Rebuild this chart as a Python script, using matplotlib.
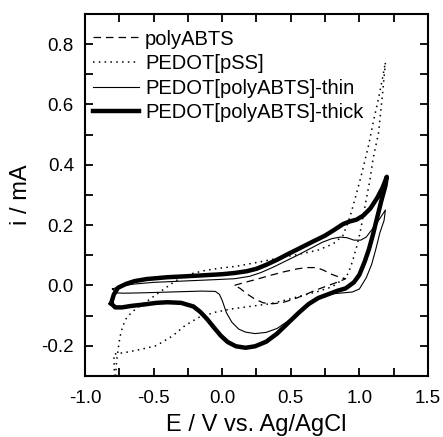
import matplotlib
matplotlib.use("Agg")
import matplotlib.pyplot as plt
from matplotlib.ticker import MultipleLocator, FormatStrFormatter

plt.rcParams["font.family"] = ["Liberation Sans", "DejaVu Sans"]

# polyABTS (dashed)
abts_E = [0.09, 0.15, 0.25, 0.35, 0.45, 0.55, 0.62, 0.69, 0.74, 0.79, 0.85, 0.90,
          0.86, 0.80, 0.74, 0.67, 0.60, 0.52, 0.44, 0.37, 0.30, 0.24, 0.18, 0.13, 0.09]
abts_i = [0.0, 0.008, 0.02, 0.033, 0.045, 0.055, 0.059, 0.059, 0.05, 0.038, 0.028, 0.022,
          0.014, 0.004, -0.006, -0.018, -0.032, -0.046, -0.057, -0.061, -0.058, -0.046, -0.028, -0.01, 0.0]

# PEDOT[pSS] (dotted)
pss_E = [-0.78, -0.77, -0.755, -0.745, -0.725, -0.70, -0.66, -0.60, -0.54, -0.48, -0.42, -0.35,
         -0.28, -0.22, -0.12, 0.0, 0.1, 0.3, 0.45, 0.59, 0.70, 0.81, 0.88, 0.91, 0.94, 0.97,
         1.0, 1.03, 1.07, 1.10, 1.14, 1.17, 1.19,
         1.17, 1.14, 1.10, 1.077, 1.04, 1.004, 0.98, 0.95, 0.92, 0.88, 0.80, 0.70, 0.59, 0.47,
         0.35, 0.20, 0.07, -0.05, -0.17, -0.27, -0.36, -0.48, -0.60, -0.70, -0.79, -0.785]
pss_i = [-0.32, -0.25, -0.20, -0.17, -0.135, -0.11, -0.089, -0.068, -0.05, -0.03, -0.011, 0.012,
         0.03, 0.039, 0.05, 0.058, 0.063, 0.08, 0.094, 0.106, 0.117, 0.138, 0.165, 0.20, 0.24, 0.29,
         0.34, 0.394, 0.47, 0.539, 0.62, 0.69, 0.74,
         0.64, 0.506, 0.42, 0.35, 0.26, 0.172, 0.128, 0.08, 0.04, 0.02, -0.005, -0.02, -0.033, -0.048,
         -0.061, -0.07, -0.078, -0.089, -0.106, -0.133, -0.167, -0.20, -0.213, -0.222, -0.228, -0.32]

# PEDOT[polyABTS]-thin (thin solid)
thin_E = [-0.80, -0.75, -0.65, -0.50, -0.35, -0.20, -0.05, 0.09, 0.20, 0.28, 0.37, 0.46, 0.55,
          0.65, 0.73, 0.80, 0.86, 0.91, 0.96, 1.01, 1.05, 1.10, 1.15, 1.19,
          1.18, 1.15, 1.12, 1.09, 1.05, 1.00, 0.95, 0.88, 0.80, 0.72, 0.65, 0.57, 0.48, 0.40,
          0.32, 0.24, 0.17, 0.12, 0.07, 0.03, 0.0, -0.02, -0.05, -0.15, -0.30, -0.45, -0.60,
          -0.72, -0.77, -0.80]
thin_i = [-0.012, -0.004, 0.004, 0.010, 0.013, 0.016, 0.019, 0.022, 0.030, 0.042, 0.060, 0.080, 0.100,
          0.124, 0.143, 0.155, 0.160, 0.158, 0.150, 0.150, 0.160, 0.19, 0.222, 0.25,
          0.215, 0.175, 0.12, 0.07, 0.025, -0.012, -0.022, -0.025, -0.028, -0.04, -0.055, -0.085, -0.118, -0.143,
          -0.156, -0.16, -0.155, -0.145, -0.122, -0.09, -0.05, -0.03, -0.02, -0.019, -0.021, -0.023, -0.025,
          -0.026, -0.025, -0.012]

# PEDOT[polyABTS]-thick (thick solid)
thick_E = [-0.81, -0.79, -0.76, -0.70, -0.64, -0.55, -0.40, -0.27, -0.15, 0.0, 0.09, 0.18, 0.25,
           0.32, 0.40, 0.48, 0.56, 0.66, 0.75, 0.82, 0.88, 0.93, 0.98, 1.03, 1.08, 1.13, 1.17, 1.20,
           1.19, 1.16, 1.13, 1.10, 1.07, 1.04, 1.00, 0.96, 0.90, 0.84, 0.77, 0.70, 0.63, 0.56,
           0.48, 0.40, 0.32, 0.24, 0.17, 0.10, 0.04, -0.01, -0.06, -0.11, -0.16, -0.21, -0.30,
           -0.40, -0.48, -0.58, -0.66, -0.73, -0.78, -0.81]
thick_i = [-0.06, -0.03, -0.008, 0.005, 0.014, 0.021, 0.027, 0.030, 0.033, 0.037, 0.041, 0.047, 0.055,
           0.068, 0.085, 0.104, 0.122, 0.145, 0.165, 0.185, 0.203, 0.212, 0.218, 0.232, 0.255, 0.29, 0.325, 0.36,
           0.33, 0.28, 0.225, 0.17, 0.12, 0.08, 0.035, 0.01, -0.01, -0.018, -0.03, -0.042, -0.062, -0.09,
           -0.125, -0.16, -0.187, -0.202, -0.207, -0.202, -0.188, -0.167, -0.14, -0.112, -0.088, -0.07, -0.058,
           -0.056, -0.058, -0.064, -0.068, -0.073, -0.073, -0.06]

labels = ["polyABTS", "PEDOT[pSS]", "PEDOT[polyABTS]-thin", "PEDOT[polyABTS]-thick"]

fig = plt.figure(figsize=(4.43, 4.37), dpi=100)
ax = fig.add_axes([0.192, 0.14, 0.774, 0.828])

ax.plot(abts_E, abts_i, color="black", lw=0.9, ls=(0, (6, 4)), label=labels[0])
ax.plot(pss_E, pss_i, color="black", lw=1.1, ls=(0, (1, 2.8)), label=labels[1])
ax.plot(thin_E, thin_i, color="black", lw=0.8, label=labels[2])
ax.plot(thick_E, thick_i, color="black", lw=3.2, label=labels[3])

ax.set_xlim(-1.0, 1.5)
ax.set_ylim(-0.3, 0.9)
ax.xaxis.set_major_locator(MultipleLocator(0.5))
ax.xaxis.set_minor_locator(MultipleLocator(0.25))
ax.yaxis.set_major_locator(MultipleLocator(0.2))
ax.yaxis.set_minor_locator(MultipleLocator(0.1))
ax.xaxis.set_major_formatter(FormatStrFormatter("%.1f"))
ax.yaxis.set_major_formatter(FormatStrFormatter("%.1f"))
ax.tick_params(which="both", direction="in", top=True, right=True, width=1.3, labelsize=13.5)
ax.tick_params(axis="x", pad=10)
ax.tick_params(axis="y", pad=8)
ax.tick_params(which="major", length=6)
ax.tick_params(which="minor", length=6)
for s in ax.spines.values():
    s.set_linewidth(1.5)

ax.set_xlabel("E / V vs. Ag/AgCl", fontsize=17, labelpad=5)
ax.set_ylabel("i / mA", fontsize=17, labelpad=7)

ax.legend(loc="upper left", bbox_to_anchor=(0.022, 0.957), frameon=False, fontsize=14.5,
          handlelength=2.3, handletextpad=0.3, labelspacing=0.28, borderpad=0, borderaxespad=0)

plt.savefig("out.png", dpi=100)
